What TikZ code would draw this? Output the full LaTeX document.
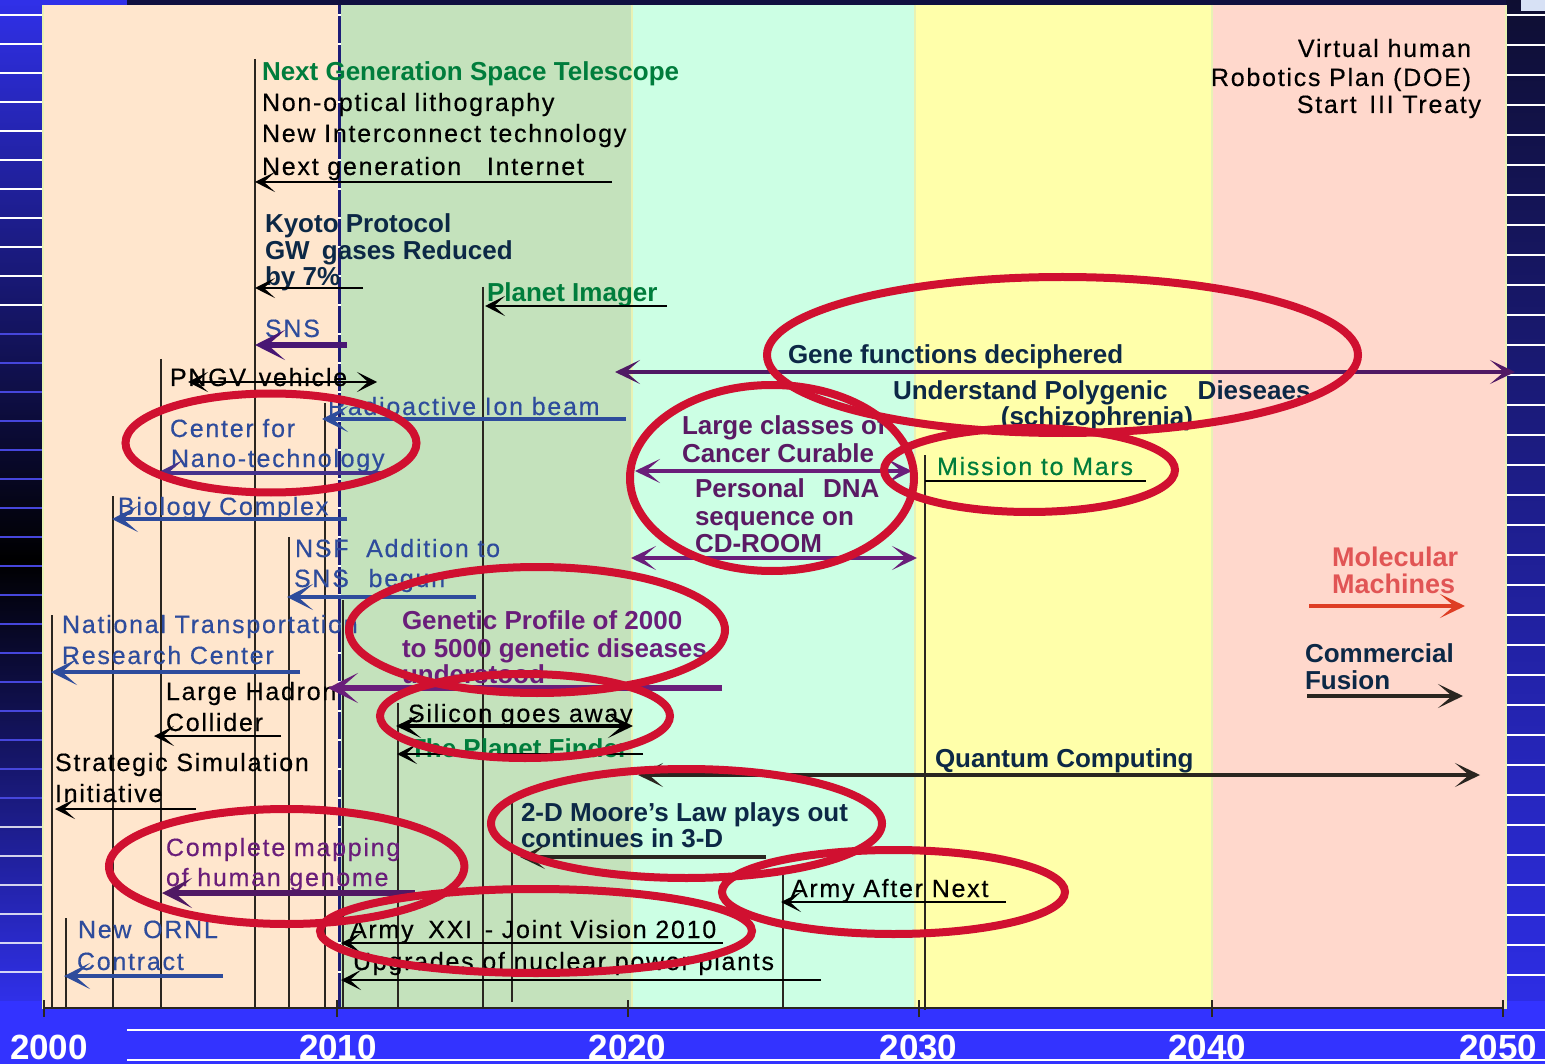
\documentclass[tikz,border=0pt]{standalone}
\usepackage{fontspec}
\setmainfont{Liberation Sans}
\newfontfamily\regf[LetterSpace=7,FakeBold=0.4]{Liberation Sans}
\usetikzlibrary{arrows.meta}
\definecolor{pch}{RGB}{255,230,205}
\definecolor{pgrn}{RGB}{196,226,188}
\definecolor{pmnt}{RGB}{204,255,228}
\definecolor{pylw}{RGB}{255,255,170}
\definecolor{ppnk}{RGB}{255,216,204}
\definecolor{pborder}{RGB}{232,242,180}
\definecolor{tgreen}{RGB}{0,125,60}
\definecolor{tnavy}{RGB}{12,40,70}
\definecolor{tblue}{RGB}{46,76,156}
\definecolor{tpurp}{RGB}{106,30,122}
\definecolor{dpurp}{RGB}{72,22,116}
\definecolor{gpurp}{RGB}{80,25,100}
\definecolor{cpurp}{RGB}{90,26,100}
\definecolor{npurp}{RGB}{70,50,140}
\definecolor{ered}{RGB}{208,16,48}
\definecolor{bandblue}{RGB}{51,51,255}
\definecolor{brblue}{RGB}{48,48,232}
\definecolor{topnavy}{RGB}{16,16,64}
\definecolor{rtop}{RGB}{14,14,50}
\definecolor{rbot}{RGB}{45,45,228}
\definecolor{cornerlt}{RGB}{215,225,245}
\definecolor{mline}{RGB}{42,38,32}
\definecolor{molred}{RGB}{225,85,85}
\definecolor{molarr}{RGB}{222,62,36}
\definecolor{gapblue}{RGB}{28,28,120}
\definecolor{midstripe}{RGB}{70,70,220}
\tikzset{
  rg/.style={font=\regf\fontsize{25}{30}\selectfont, anchor=base west, inner sep=0pt, outer sep=0pt},
  bd/.style={font=\bfseries\fontsize{26}{30}\selectfont, anchor=base west, inner sep=0pt, outer sep=0pt},
  yr/.style={font=\bfseries\fontsize{35}{40}\selectfont, text=white, anchor=base, inner sep=0pt},
  vl/.style={draw=mline, line width=2pt},
  ta/.style={draw=black, line width=2.2pt, -{Stealth[length=20pt,width=20pt,inset=11pt]}},
  dt/.style={draw=black, line width=2.2pt, {Stealth[length=20pt,width=20pt,inset=11pt]}-{Stealth[length=20pt,width=20pt,inset=11pt]}},
  ba/.style={draw=tblue, line width=3.5pt, -{Stealth[length=26pt,width=26pt,inset=15pt]}},
  pa/.style={line width=5.5pt, -{Stealth[length=30pt,width=30pt,inset=17pt]}},
  da/.style={line width=3.8pt, {Stealth[length=25pt,width=24pt,inset=14pt]}-{Stealth[length=25pt,width=24pt,inset=14pt]}},
  fa/.style={line width=4.5pt, -{Stealth[length=25pt,width=24pt,inset=14pt]}},
  ring/.style={draw=ered, line width=8pt},
  stripe/.style={line width=1.5pt},
}
\begin{document}
\begin{tikzpicture}[x=1pt,y=-1pt]
\useasboundingbox (0,0) rectangle (1545,1064);
% ---------- background ----------
\fill[bandblue] (0,0) rectangle (1545,1064);
\shade[top color=brblue, bottom color=black] (0,0) rectangle (43,560);
\shade[top color=black, bottom color=brblue] (0,560) rectangle (43,1000);
\shade[top color=rtop, bottom color=rbot] (1506,0) rectangle (1545,1000);
\fill[topnavy] (127,0) rectangle (1506,5);
\fill[brblue] (0,0) rectangle (127,5);
\foreach \y in {15,44,...,320} \draw[stripe, white] (0,\y) -- (43,\y);
\foreach \y in {334,363,...,820} \draw[stripe, midstripe] (0,\y) -- (43,\y);
\foreach \y in {827,856,...,1000} \draw[stripe, white, opacity=0.8] (0,\y) -- (43,\y);
\foreach \y in {15,45,...,1000} \draw[stripe, white] (1506,\y) -- (1545,\y);
\fill[cornerlt] (1521,0) rectangle (1545,11);
\draw[stripe, white] (127,1030) -- (1545,1030);
\draw[stripe, white] (127,1060) -- (1545,1060);
% ---------- panels ----------
\fill[pch] (43,5) rectangle (338,1009);
\fill[pgrn] (340.5,5) rectangle (632,1009);
\fill[pmnt] (632,5) rectangle (915,1009);
\fill[pylw] (915,5) rectangle (1212,1009);
\fill[ppnk] (1212,5) rectangle (1506,1009);
\foreach \x in {43,632,915,1212,1506} \draw[pborder, line width=2.5pt] (\x,5) -- (\x,1009);
\fill[gapblue] (338,5) rectangle (340.5,1008);
\foreach \y in {15,44,...,1000} \draw[white, line width=1.2pt] (338,\y) -- (340.5,\y);
% ---------- axis ----------
\draw[mline, line width=2.5pt] (44,1008) -- (1503,1008);
\foreach \x in {44,337,628,919,1212,1503} \draw[mline, line width=2pt] (\x,1000) -- (\x,1017);
\node[yr] (y2000) at (49,1059) {2000};
\node[yr] (y2010) at (338,1059) {2010};
\node[yr] (y2020) at (627.5,1059) {2020};
\node[yr] (y2030) at (918.5,1059) {2030};
\node[yr] (y2040) at (1207,1059) {2040};
\node[yr] (y2050) at (1498,1059) {2050};
% ---------- vertical markers ----------
\draw[vl] (52,615) -- (52,1008);
\draw[vl] (66,918) -- (66,1008);
\draw[vl] (113,496) -- (113,1008);
\draw[vl] (161,359) -- (161,1008);
\draw[vl] (254.5,59) -- (254.5,1008);
\draw[vl] (288.5,537) -- (288.5,1008);
\draw[vl] (325,403) -- (325,1008);
\draw[vl] (342.5,600) -- (342.5,1008);
\draw[vl] (397.5,703) -- (397.5,1008);
\draw[vl] (482.5,287) -- (482.5,1008);
\draw[vl] (512,803) -- (512,1002);
\draw[vl] (783,870) -- (783,1008);
\draw[vl] (925,455) -- (925,1010);
% ---------- texts ----------
\node[bd, text=tgreen] (t1) at (262,81) {Next Generation Space Telescope};
\node[rg] (t2) at (262,111) {Non-optical lithography};
\node[rg] (t3) at (262,142) {New Interconnect technology};
\node[rg] (t4) at (262,175) {Next generation\hspace{17pt} Internet};
\node[bd, text=tnavy] (t5) at (265,233) {Kyoto Protocol};
\node[bd, text=tnavy] (t6) at (265,260) {GW\hspace{5pt} gases Reduced};
\node[bd, text=tnavy] (t7) at (265,286) {by 7\%};
\node[bd, text=tgreen] (t8) at (487,302) {Planet Imager};
\node[rg, text=tblue] (t9) at (265,337) {SNS};
\node[rg] (t10) at (170,386) {PNGV\hspace{4pt} vehicle};
\node[rg, text=tblue] (t11) at (328,415) {Radioactive Ion beam};
\node[rg, text=tblue] (t12) at (170,437) {Center for};
\node[rg, text=tblue] (t13) at (171,467) {Nano-technology};
\node[rg, text=tblue] (t14) at (118,515) {Biology Complex};
\node[rg, text=tblue] (t15) at (295,557) {NSF\hspace{9pt} Addition to};
\node[rg, text=tblue] (t16) at (294,587) {SNS\hspace{11pt} begun};
\node[rg, text=tblue] (t17) at (62,633) {National Transportation};
\node[rg, text=tblue] (t18) at (62,664) {Research Center};
\node[rg] (t19) at (166,700) {Large Hadron};
\node[rg] (t20) at (166,731) {Collider};
\node[rg] (t21) at (55,771) {Strategic Simulation};
\node[rg] (t22) at (55,802) {Initiative};
\node[rg, text=tpurp] (t23) at (166,856) {Complete mapping};
\node[rg, text=tpurp] (t24) at (166,886) {of human genome};
\node[rg, text=tblue] (t25) at (78,938) {New\hspace{3pt} ORNL};
\node[rg, text=tblue] (t26) at (77,970) {Contract};
\node[bd, text=tpurp] (t27) at (402,629) {Genetic Profile of 2000};
\node[bd, text=tpurp] (t28) at (402,657) {to 5000 genetic diseases};
\node[bd, text=tpurp] (t29) at (402,683) {understood};
\node[rg] (t30) at (408,722) {Silicon goes away};
\node[bd, text=tgreen] (t31) at (410,757) {The Planet Finder};
\node[bd, text=tnavy] (t32) at (521,821) {2-D Moore’s Law plays out};
\node[bd, text=tnavy] (t33) at (521,847) {continues in 3-D};
\node[rg] (t34) at (350,938) {Army\hspace{6pt} XXI\hspace{4pt} - Joint Vision 2010};
\node[rg] (t35) at (353,970) {Upgrades of nuclear power plants};
\node[rg] (t36) at (791,897) {Army After Next};
\node[bd, text=tnavy] (t37) at (935,767) {Quantum Computing};
\node[bd, text=tnavy] (t38) at (788,364) {Gene functions deciphered};
\node[bd, text=tnavy] (t39) at (893,400) {Understand Polygenic\hspace{23pt} Dieseaes};
\node[bd, text=tnavy, anchor=base east] (t40) at (1193,426) {(schizophrenia)};
\node[bd, text=cpurp] (t41) at (682,435) {Large classes of};
\node[bd, text=cpurp] (t42) at (682,462) {Cancer Curable};
\node[bd, text=cpurp] (t43) at (695,497) {Personal\hspace{11pt} DNA};
\node[bd, text=cpurp] (t44) at (695,525) {sequence on};
\node[bd, text=cpurp] (t45) at (695,552) {CD-ROOM};
\node[rg, text=tgreen] (t46) at (937,475) {Mission to Mars};
\node[rg, anchor=base east] (t47) at (1471,57) {Virtual human};
\node[rg, anchor=base east] (t48) at (1471,86) {Robotics Plan (DOE)};
\node[rg, anchor=base east] (t49) at (1481,113) {Start\hspace{4pt} III Treaty};
\node[bd, text=molred, font=\bfseries\fontsize{27}{30}\selectfont] (t50) at (1332,566) {Molecular};
\node[bd, text=molred, font=\bfseries\fontsize{27}{30}\selectfont] (t51) at (1332,593) {Machines};
\node[bd, text=tnavy] (t52) at (1305,662) {Commercial};
\node[bd, text=tnavy] (t53) at (1305,689) {Fusion};
% ---------- connector end points ----------
\coordinate (a1s) at (612,182);  \coordinate (a1e) at (255,182);
\coordinate (a2s) at (363,288);  \coordinate (a2e) at (255,288);
\coordinate (a3s) at (667,306);  \coordinate (a3e) at (485,306);
\coordinate (a4s) at (347,345);  \coordinate (a4e) at (255,345);
\coordinate (a5s) at (188,382);  \coordinate (a5e) at (377,382);
\coordinate (a6s) at (626,419);  \coordinate (a6e) at (322,419);
\coordinate (a7s) at (390,473);  \coordinate (a7e) at (157,473);
\coordinate (a8s) at (347,519);  \coordinate (a8e) at (112,519);
\coordinate (a9s) at (476,597);  \coordinate (a9e) at (287,597);
\coordinate (a10s) at (300,672); \coordinate (a10e) at (51,672);
\coordinate (a11s) at (722,688); \coordinate (a11e) at (328,688);
\coordinate (a12s) at (281,736); \coordinate (a12e) at (154,736);
\coordinate (a13s) at (396,726); \coordinate (a13e) at (633,726);
\coordinate (a14s) at (643,754); \coordinate (a14e) at (397,754);
\coordinate (a15s) at (196,809); \coordinate (a15e) at (55,809);
\coordinate (a16s) at (638,775); \coordinate (a16e) at (1480,775);
\coordinate (a17s) at (766,857); \coordinate (a17e) at (520,857);
\coordinate (a18s) at (415,893); \coordinate (a18e) at (162,893);
\coordinate (a19s) at (1006,902); \coordinate (a19e) at (781,902);
\coordinate (a20s) at (723,943); \coordinate (a20e) at (341,943);
\coordinate (a21s) at (821,980); \coordinate (a21e) at (341,980);
\coordinate (a22s) at (223,976); \coordinate (a22e) at (64,976);
\coordinate (a23s) at (615,372); \coordinate (a23e) at (1515,372);
\coordinate (a24s) at (635,471); \coordinate (a24e) at (912,471);
\coordinate (a25s) at (631,558); \coordinate (a25e) at (917,558);
\coordinate (a26s) at (925,481); \coordinate (a26e) at (1146,481);
\coordinate (a27s) at (1309,606); \coordinate (a27e) at (1465,606);
\coordinate (a28s) at (1307,696); \coordinate (a28e) at (1463,696);
% ---------- connectors ----------
\draw[ta] (a1s) -- (a1e);
\draw[ta] (a2s) -- (a2e);
\draw[ta] (a3s) -- (a3e);
\draw[pa, draw=dpurp, fill=dpurp] (a4s) -- (a4e);
\draw[dt] (a5s) -- (a5e);
\draw[ba] (a6s) -- (a6e);
\draw[ba, draw=npurp] (a7s) -- (a7e);
\draw[ba] (a8s) -- (a8e);
\draw[ba] (a9s) -- (a9e);
\draw[ba] (a10s) -- (a10e);
\draw[pa, draw=tpurp] (a11s) -- (a11e);
\draw[ta] (a12s) -- (a12e);
\draw[da, draw=black] (a13s) -- (a13e);
\draw[ta] (a14s) -- (a14e);
\draw[ta] (a15s) -- (a15e);
\draw[da, draw=mline, line width=4.5pt] (a16s) -- (a16e);
\draw[fa, draw=mline] (a17s) -- (a17e);
\draw[pa, draw=gpurp] (a18s) -- (a18e);
\draw[ta] (a19s) -- (a19e);
\draw[ta] (a20s) -- (a20e);
\draw[ta] (a21s) -- (a21e);
\draw[ba] (a22s) -- (a22e);
\draw[da, draw=gpurp, line width=4.5pt] (a23s) -- (a23e);
\draw[da, draw=tpurp, line width=3.5pt] (a24s) -- (a24e);
\draw[da, draw=tpurp, line width=3.5pt] (a25s) -- (a25e);
\draw[black, line width=2pt] (a26s) -- (a26e);
\draw[fa, draw=molarr] (a27s) -- (a27e);
\draw[fa, draw=mline] (a28s) -- (a28e);
% ---------- red rings ----------
\draw[ring] (1062.5,355) ellipse [x radius=295.5, y radius=78];
\draw[ring] (271,443) ellipse [x radius=145.5, y radius=49.5];
\draw[ring] (772,478) ellipse [x radius=142, y radius=93];
\draw[ring] (1029.5,470) ellipse [x radius=145.5, y radius=42];
\draw[ring] (537,630) ellipse [x radius=188, y radius=63];
\draw[ring] (525,716) ellipse [x radius=145, y radius=42];
\draw[ring] (686.5,823.5) ellipse [x radius=195.5, y radius=54.5];
\draw[ring] (286.7,866.5) ellipse [x radius=177.7, y radius=57.5];
\draw[ring] (893.5,892) ellipse [x radius=171.5, y radius=42];
\draw[ring] (536,931) ellipse [x radius=216, y radius=42];
\end{tikzpicture}
\end{document}
